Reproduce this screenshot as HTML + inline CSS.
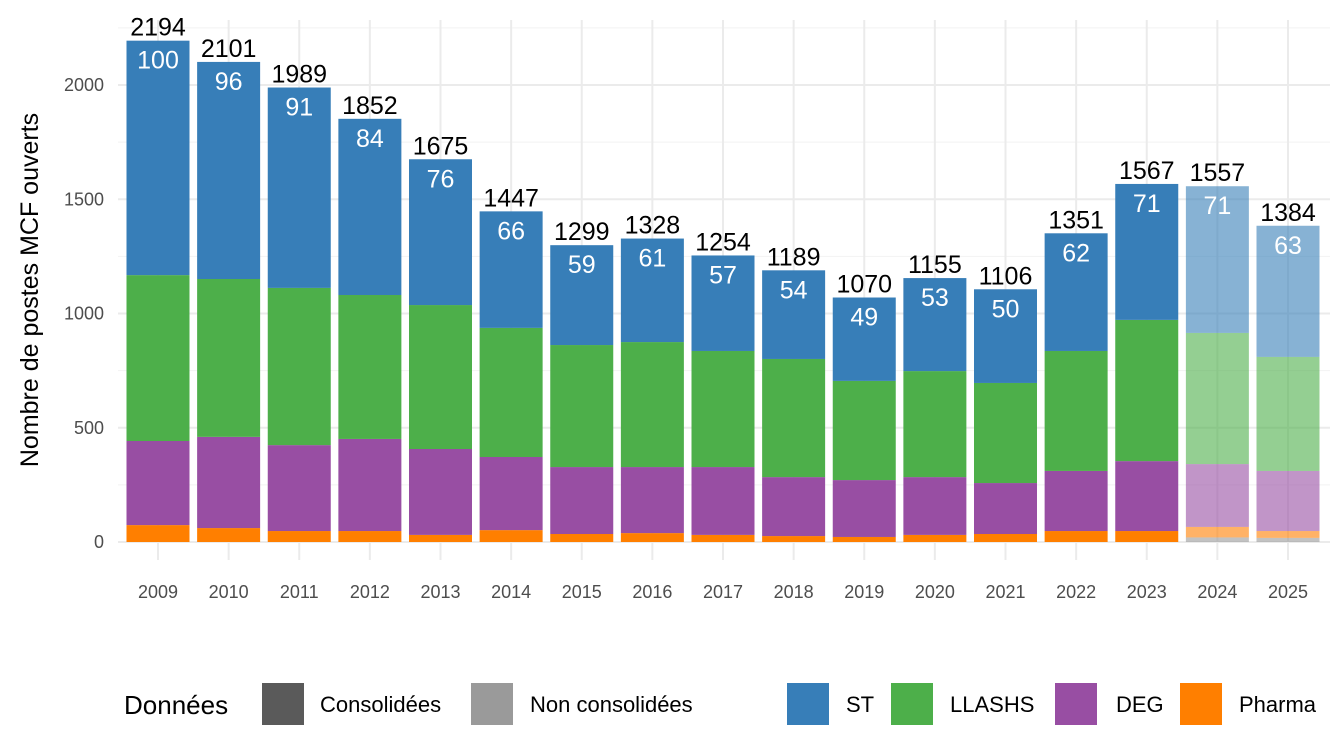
<!DOCTYPE html>
<html><head><meta charset="utf-8"><style>
body{margin:0;background:#fff;font-family:"Liberation Sans",sans-serif}
svg{display:block}
</style></head><body>
<svg id="c" width="1344" height="756"></svg>
<script>
const years=[2009,2010,2011,2012,2013,2014,2015,2016,2017,2018,2019,2020,2021,2022,2023,2024,2025];
const totals=[2194,2101,1989,1852,1675,1447,1299,1328,1254,1189,1070,1155,1106,1351,1567,1557,1384];
const indexLabels=[100,96,91,84,76,66,59,61,57,54,49,53,50,62,71,71,63];
const other=[0,0,0,0,0,0,0,0,0,0,0,0,0,0,0,20,18];
const pharma=[74,61,48,48,31,52,35,39,31,26,22,31,35,48,48,46,30];
const deg=[368,399,376,403,376,320,293,289,297,258,249,253,223,263,306,275,263];
const llashs=[726,691,688,630,630,565,534,547,508,517,434,464,438,525,618,574,499];
const consolidated=[1,1,1,1,1,1,1,1,1,1,1,1,1,1,1,0,0];
const yTicks=[0,500,1000,1500,2000];
const NS="http://www.w3.org/2000/svg",svg=document.getElementById('c');
const y=v=>542-v*0.2285, xc=i=>158+i*70.625, bw=63;
function mk(t,a,p){const e=document.createElementNS(NS,t);for(const k in a)e.setAttribute(k,a[k]);(p||svg).appendChild(e);return e;}
for(let v=250;v<=2250;v+=500){const l=mk('line',{x1:118,x2:1330,y1:y(v),y2:y(v),stroke:'#f2f2f2','stroke-width':1});

}
yTicks.forEach(v=>{const l=mk('line',{x1:118,x2:1330,y1:y(v),y2:y(v),stroke:'#ebebeb','stroke-width':2});


const t=mk('text',{x:104,y:y(v)+6,'text-anchor':'end','font-size':18,fill:'#4d4d4d'});t.textContent=v;

});
years.forEach((yr,i)=>{const l=mk('line',{x1:xc(i),x2:xc(i),y1:20,y2:560,stroke:'#ebebeb','stroke-width':2});

});
const cols={other:'#999',pharma:'#ff7f00',deg:'#984ea3',llashs:'#4daf4a',st:'#377eb8'};
years.forEach((yr,i)=>{
 const op=consolidated[i]?1:0.6;
 const st=totals[i]-other[i]-pharma[i]-deg[i]-llashs[i];
 const segs=[['other',other[i]],['pharma',pharma[i]],['deg',deg[i]],['llashs',llashs[i]],['st',st]];
 let c=0;
 const g=mk('g',{});
 
 
 segs.forEach(([k,v])=>{if(v<=0)return;const r=mk('rect',{x:xc(i)-bw/2,y:y(c+v),width:bw,height:v*0.2285,fill:cols[k],'fill-opacity':op},g);
  
  c+=v;});
 const t=mk('text',{x:xc(i),y:y(totals[i])-5,'text-anchor':'middle','font-size':25,fill:'#000'});t.textContent=totals[i];
 
 
 const t2=mk('text',{x:xc(i),y:y(totals[i])+28,'text-anchor':'middle','font-size':25,fill:'#fff'});t2.textContent=indexLabels[i];
 
 
 const t3=mk('text',{x:xc(i),y:598,'text-anchor':'middle','font-size':18,fill:'#4d4d4d'});t3.textContent=yr;
 
 
});
const yt=mk('text',{x:0,y:0,transform:'translate(38,290) rotate(-90)','text-anchor':'middle','font-size':25,fill:'#000'});yt.textContent='Nombre de postes MCF ouverts';


const lt=mk('text',{x:124,y:714,'font-size':26,fill:'#000'});lt.textContent='Données';


const leg=[[262,'#5a5a5a','Consolidées',320],[471,'#9a9a9a','Non consolidées',530],[787,cols.st,'ST',846],[891,cols.llashs,'LLASHS',950],[1055,cols.deg,'DEG',1116],[1180,cols.pharma,'Pharma',1239]];
leg.forEach(([x,c,l,tx])=>{const r=mk('rect',{x:x,y:683,width:42,height:42,fill:c});


const t=mk('text',{x:tx,y:712,'font-size':22,fill:'#000'});t.textContent=l;

});
</script>
</body></html>
